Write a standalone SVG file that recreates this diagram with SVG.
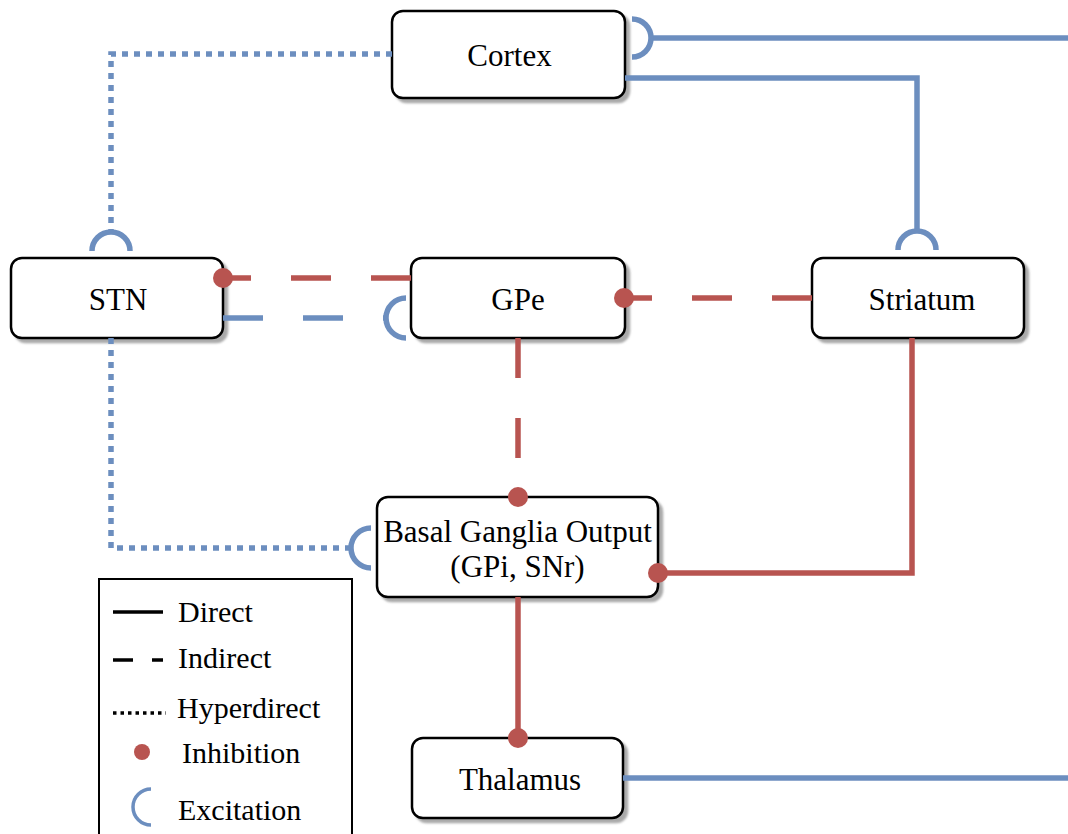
<svg xmlns="http://www.w3.org/2000/svg" width="1068" height="834" viewBox="0 0 1068 834">
<style>
.box{fill:#fff;stroke:#000;stroke-width:2.5}
.shadow{fill:#aaa;stroke:#aaa;stroke-width:2.5}
.lbl{font-family:"Liberation Serif","Times New Roman",serif;font-size:31px;fill:#000;text-anchor:middle}
.leg{font-family:"Liberation Serif","Times New Roman",serif;font-size:30px;fill:#000}
.blue{fill:none;stroke:#6c8ebf;stroke-width:5.5}
.red{fill:none;stroke:#b85450;stroke-width:5.5}
.dash{stroke-dasharray:40 40}
.dot{stroke-dasharray:6 6}
.inh{fill:#b85450}
</style>
<defs>
<filter id="blur" x="-5%" y="-5%" width="110%" height="110%"><feGaussianBlur stdDeviation="0.8"/></filter>
</defs>

<g id="node-cortex">
<rect class="shadow" x="396" y="15" width="233" height="87" rx="11" filter="url(#blur)"/>
<rect class="box" x="392" y="11" width="233" height="87" rx="11"/>
<text class="lbl" x="509.5" y="66">Cortex</text>
</g>
<g id="node-stn">
<rect class="shadow" x="15" y="262" width="212" height="80" rx="11" filter="url(#blur)"/>
<rect class="box" x="11" y="258" width="212" height="80" rx="11"/>
<text class="lbl" x="118" y="310">STN</text>
</g>
<g id="node-gpe">
<rect class="shadow" x="415" y="262" width="214" height="80" rx="11" filter="url(#blur)"/>
<rect class="box" x="411" y="258" width="214" height="80" rx="11"/>
<text class="lbl" x="518" y="310">GPe</text>
</g>
<g id="node-striatum">
<rect class="shadow" x="816" y="262" width="212" height="80" rx="11" filter="url(#blur)"/>
<rect class="box" x="812" y="258" width="212" height="80" rx="11"/>
<text class="lbl" x="922" y="310">Striatum</text>
</g>
<g id="node-bgo">
<rect class="shadow" x="381" y="501" width="281" height="100" rx="11" filter="url(#blur)"/>
<rect class="box" x="377" y="497" width="281" height="100" rx="11"/>
<text class="lbl" x="517.5" y="542">Basal Ganglia Output</text>
<text class="lbl" x="517.5" y="577">(GPi, SNr)</text>
</g>
<g id="node-thalamus">
<rect class="shadow" x="416" y="742" width="211" height="80" rx="11" filter="url(#blur)"/>
<rect class="box" x="412" y="738" width="211" height="80" rx="11"/>
<text class="lbl" x="520" y="790">Thalamus</text>
</g>

<g id="connectors">
<path class="blue dot" d="M392 54 H111 V232"/>
<path class="blue" d="M92 251 A19 19 0 0 1 130 251"/>
<path class="blue" d="M651 38 H1068"/>
<path class="blue" d="M632 19 A19 19 0 0 1 632 57"/>
<path class="blue" d="M625 78 H917 V231"/>
<path class="blue" d="M898 250 A19 19 0 0 1 936 250"/>
<path class="blue dash" d="M223 318 H386"/>
<path class="blue" d="M406 298 A20 20 0 0 0 406 338"/>
<path class="red dash" d="M411 278 H223"/>
<circle class="inh" cx="223" cy="278" r="10"/>
<path class="red dash" d="M812 298 H624"/>
<circle class="inh" cx="624" cy="298" r="10"/>
<path class="red dash" d="M518 338 V497"/>
<circle class="inh" cx="518" cy="497" r="10"/>
<path class="red" d="M912 338 V573 H658"/>
<circle class="inh" cx="658" cy="573" r="10"/>
<path class="red" d="M518 597 V738"/>
<circle class="inh" cx="518" cy="738" r="10"/>
<path class="blue dot" d="M111 338 V548 H351"/>
<path class="blue" d="M371 528 A20 20 0 0 0 371 568"/>
<path class="blue" d="M623 778 H1068"/>
</g>

<g id="legend">
<rect x="99" y="579" width="253" height="270" fill="#fff" stroke="#000" stroke-width="2"/>
<line x1="113" y1="612" x2="163" y2="612" stroke="#000" stroke-width="3.5"/>
<text class="leg" x="178" y="622">Direct</text>
<path d="M113 660 H133 M152 660 H163" stroke="#000" stroke-width="3.5"/>
<text class="leg" x="178" y="668">Indirect</text>
<line x1="113" y1="713" x2="166" y2="713" stroke="#000" stroke-width="3.5" stroke-dasharray="3.5 4"/>
<text class="leg" x="177" y="718">Hyperdirect</text>
<circle cx="142" cy="752" r="8" fill="#b85450"/>
<text class="leg" x="182" y="763">Inhibition</text>
<path d="M151 789 A18 18 0 0 0 151 825" fill="none" stroke="#6c8ebf" stroke-width="3.5"/>
<text class="leg" x="178" y="820">Excitation</text>
</g>
</svg>
